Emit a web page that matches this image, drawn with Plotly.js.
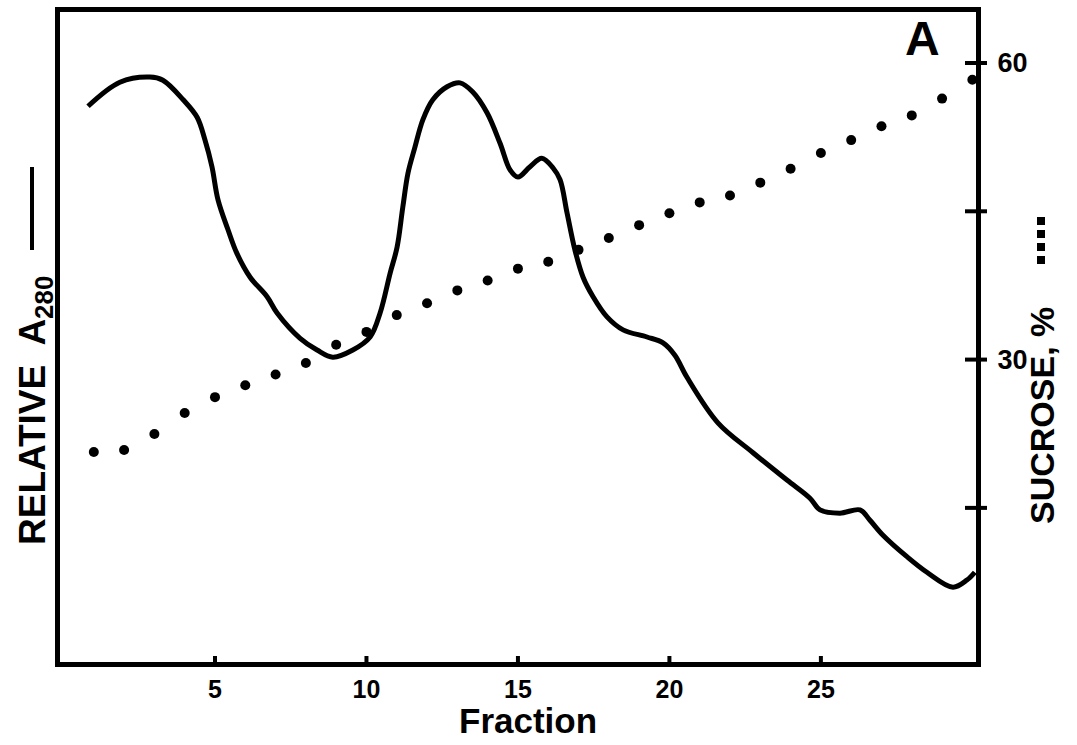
<!DOCTYPE html>
<html>
<head>
<meta charset="utf-8">
<script src="https://cdn.plot.ly/plotly-3.0.1.min.js"></script>
<style>
  html, body { margin: 0; padding: 0; background: #fff; }
  #chart { width: 1077px; height: 745px; }
</style>
</head>
<body>
<div id="chart"></div>
<script>
// ---- Data ----
// Relative A280 profile (solid curve), x = fraction number, y = relative absorbance (0-100, arbitrary)
const a280Fraction = [0.81, 1.86, 2.85, 3.28, 3.95, 4.41, 4.67, 4.90, 5.10, 5.43, 5.72, 6.16, 6.72, 7.05, 7.81,
  8.37, 8.89, 9.55, 10.12, 10.45, 10.78, 11.01, 11.20, 11.37, 11.60, 11.86, 12.19, 12.66, 13.09, 13.51,
  13.98, 14.41, 14.74, 15.00, 15.40, 15.79, 16.16, 16.39, 16.62, 16.88, 17.15, 17.48, 17.94, 18.47, 19.26,
  19.79, 20.18, 20.58, 21.60, 22.76, 23.88, 24.64, 24.97, 25.63, 26.29, 26.62, 27.05, 27.84, 28.50, 29.36,
  29.82, 30.08];
const a280Relative = [85.5, 89.2, 90.0, 89.5, 86.5, 83.8, 80.3, 76.2, 71.1, 66.5, 62.9, 59.2, 56.2, 53.7, 49.8,
  48.0, 46.9, 48.0, 50.0, 53.7, 59.8, 63.8, 70.0, 75.2, 79.2, 83.4, 86.5, 88.5, 89.1, 87.7,
  84.5, 79.8, 75.7, 74.6, 76.2, 77.5, 76.0, 74.2, 69.1, 63.4, 59.2, 56.2, 53.1, 51.1, 50.0,
  49.1, 47.2, 43.8, 36.8, 32.2, 28.0, 25.2, 23.4, 22.9, 23.4, 21.8, 19.5, 16.2, 13.8, 11.5,
  12.6, 13.8];

// Sucrose gradient (dotted), x = fraction number, y = sucrose %
const sucroseFraction = [1, 2, 3, 4, 5, 6, 7, 8, 9, 10, 11, 12, 13, 14, 15,
  16, 17, 18, 19, 20, 21, 22, 23, 24, 25, 26, 27, 28, 29, 30];
const sucrosePercent = [20.65, 20.86, 22.47, 24.6, 26.2, 27.4, 28.5, 29.65, 31.5, 32.8, 34.5, 35.7, 37.0, 38.0, 39.2,
  39.9, 41.1, 42.3, 43.6, 44.8, 45.9, 46.6, 47.9, 49.3, 50.9, 52.2, 53.6, 54.7, 56.4, 58.3];

// Axis ticks
const xTickVals = [5, 10, 15, 20, 25];
const xTickText = ['5', '10', '15', '20', '25'];
const sucroseTickVals = [15, 30, 45, 60];       // tick marks
const sucroseLabelVals = [30, 60];              // labelled ticks
const sucroseLabelText = ['30', '60'];

// ---- Plot ----
const FONT = '"Liberation Sans", Arial, sans-serif';

const traces = [
  {
    x: sucroseFraction, y: sucrosePercent, type: 'scatter', mode: 'markers',
    xaxis: 'x', yaxis: 'y2',
    marker: { color: '#000', size: 10, symbol: 'circle' },
    hoverinfo: 'skip', showlegend: false
  },
  {
    x: a280Fraction, y: a280Relative, type: 'scatter', mode: 'lines',
    xaxis: 'x', yaxis: 'y',
    line: { color: '#000', width: 5, shape: 'spline', smoothing: 1 },
    hoverinfo: 'skip', showlegend: false
  }
];

const W = 1077, H = 745;
const L = 60, R = 976, T = 12, B = 662;
const px = v => (v - L) / (R - L);
const py = v => (B - v) / (B - T);

const xr = [-0.116, 30.12];
const y2r = [-0.59, 65.16];

// crossing tick marks (half inside, half outside the frame), positioned from the tick arrays
const tickShapes = [];
xTickVals.forEach(v => tickShapes.push({
  type: 'line', xref: 'x', yref: 'paper', x0: v, x1: v, y0: -4 / (B - T), y1: 6 / (B - T),
  line: { color: '#000', width: 4 }
}));
sucroseTickVals.forEach(v => tickShapes.push({
  type: 'line', xref: 'paper', yref: 'y2', x0: 1 - 11 / (R - L), x1: 1 + 11 / (R - L), y0: v, y1: v,
  line: { color: '#000', width: 4 }
}));

const layout = {
  width: W, height: H,
  margin: { l: L, r: W - R, t: T, b: H - B, pad: 0 },
  paper_bgcolor: '#fff', plot_bgcolor: '#fff',
  showlegend: false,
  xaxis: {
    range: xr, showgrid: false, zeroline: false,
    showline: true, linecolor: '#000', linewidth: 5, mirror: true,
    tickmode: 'array', tickvals: xTickVals, ticktext: xTickText,
    ticks: 'outside', ticklen: 1, tickwidth: 1, tickcolor: 'rgba(0,0,0,0)',
    tickfont: { family: FONT, size: 25, color: '#000', weight: 'bold' },
    fixedrange: true
  },
  yaxis: {
    range: [0, 100], showgrid: false, zeroline: false,
    showline: true, linecolor: '#000', linewidth: 5,
    ticks: '', showticklabels: false, fixedrange: true
  },
  yaxis2: {
    overlaying: 'y', side: 'right', anchor: 'x', range: y2r,
    showgrid: false, zeroline: false,
    showline: true, linecolor: '#000', linewidth: 5,
    tickmode: 'array', tickvals: sucroseLabelVals, ticktext: sucroseLabelText,
    ticks: 'outside', ticklen: 11, tickwidth: 1, tickcolor: 'rgba(0,0,0,0)',
    tickfont: { family: FONT, size: 27, color: '#000', weight: 'bold' },
    fixedrange: true
  },
  annotations: [
    { text: '<b>A</b>', xref: 'paper', yref: 'paper', x: px(922), y: py(38),
      xanchor: 'center', yanchor: 'middle', showarrow: false,
      font: { family: FONT, size: 48, color: '#000' } },
    { text: '<b>Fraction</b>', xref: 'paper', yref: 'paper', x: px(528), y: py(720),
      xanchor: 'center', yanchor: 'middle', showarrow: false,
      font: { family: FONT, size: 35, color: '#000' } },
    { text: '<b>RELATIVE  A<sub>280</sub></b>', xref: 'paper', yref: 'paper', x: px(35), y: py(411),
      xanchor: 'center', yanchor: 'middle', showarrow: false, textangle: -90,
      font: { family: FONT, size: 37, color: '#000' } },
    { text: '<b>SUCROSE, %</b>', xref: 'paper', yref: 'paper', x: px(1042), y: py(416),
      xanchor: 'center', yanchor: 'middle', showarrow: false, textangle: -90,
      font: { family: FONT, size: 34, color: '#000' } }
  ],
  shapes: tickShapes.concat([
    // solid-line key next to left title
    { type: 'line', xref: 'paper', yref: 'paper', x0: px(32), x1: px(32), y0: py(167), y1: py(250),
      line: { color: '#000', width: 4 } },
    // dotted key next to right title
    { type: 'rect', xref: 'paper', yref: 'paper', x0: px(1037), x1: px(1045), y0: py(217), y1: py(225), fillcolor: '#000', line: { width: 0 } },
    { type: 'rect', xref: 'paper', yref: 'paper', x0: px(1037), x1: px(1045), y0: py(230), y1: py(238), fillcolor: '#000', line: { width: 0 } },
    { type: 'rect', xref: 'paper', yref: 'paper', x0: px(1037), x1: px(1045), y0: py(243), y1: py(251), fillcolor: '#000', line: { width: 0 } },
    { type: 'rect', xref: 'paper', yref: 'paper', x0: px(1037), x1: px(1045), y0: py(256), y1: py(264), fillcolor: '#000', line: { width: 0 } }
  ])
};

Plotly.newPlot('chart', traces, layout, { staticPlot: true, displayModeBar: false });
</script>
</body>
</html>
